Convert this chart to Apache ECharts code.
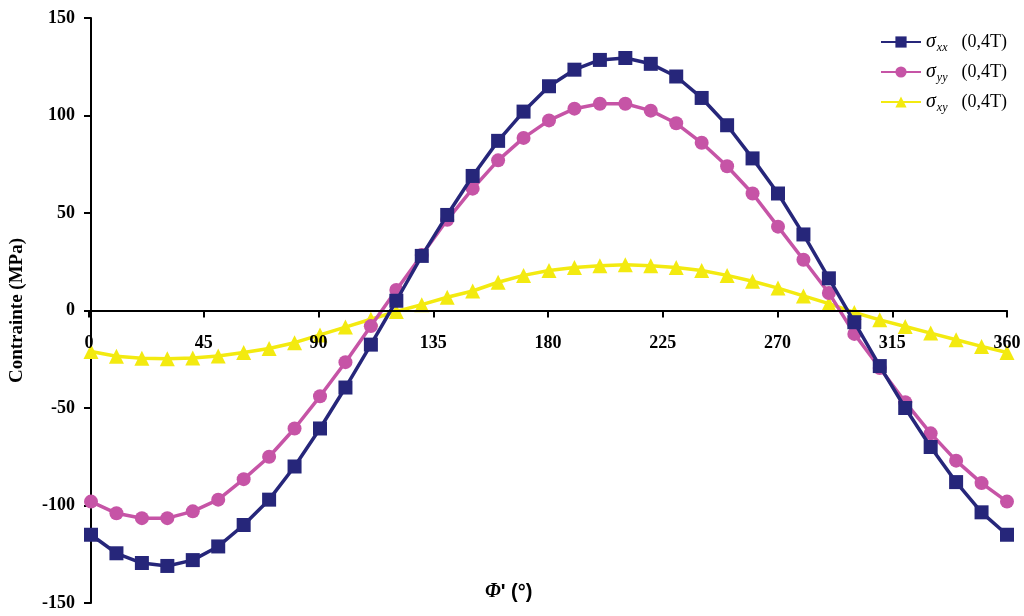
<!DOCTYPE html>
<html><head><meta charset="utf-8">
<script src="https://cdn.jsdelivr.net/npm/echarts@6/dist/echarts.min.js"></script>
<style>html,body{margin:0;padding:0;background:#fff}#c{width:1024px;height:616px}</style>
</head><body><div id="c"></div>
<script>
const phi = [0,10,20,30,40,50,60,70,80,90,100,110,120,130,140,150,160,170,180,190,200,210,220,230,240,250,260,270,280,290,300,310,320,330,340,350,360];
const sxx = [-115,-124.5,-129.5,-131,-128,-121,-110,-97,-80,-60.5,-39.5,-17.5,5,28,49,69,87,102,115,123.5,128.5,129.5,126.5,120,109,95,78,60,39,16.5,-6,-28.5,-50,-70,-88,-103.5,-115];
const syy = [-98,-104,-106.5,-106.5,-103,-97,-86.5,-75,-60.5,-44,-26.5,-8,10.5,28.5,46.5,62.5,77,88.5,97.5,103.5,106,106,102.5,96,86,74,60,43,26,9,-12,-29.5,-47,-63,-77,-88.5,-98];
const sxy = [-21,-23.5,-24.5,-24.7,-24.3,-23.3,-21.5,-19.5,-16.5,-12.5,-8.5,-4.5,-0.5,3,6.8,10,14.5,18,20.5,22,23,23.5,23,22,20.5,18,15,11.5,7.5,3.5,-1,-4.8,-8.2,-11.6,-15,-18.4,-21.5];
const yTicks = {min:-150, max:150, interval:50};
const xTicks = {min:0, max:360, interval:45};
const names = ['xx','yy','xy'];
const legendSuffix = '(0,4T)';

const serif = 'Liberation Serif';
const chart = echarts.init(document.getElementById('c'));
function mk(arr){ return phi.map((p,i)=>[p,arr[i]]); }
const colors = ['#26267a','#c654a6','#f3ea10'];
const symbols = ['rect','circle','triangle'];
const sizes = [14,14,15];
const vals = [sxx,syy,sxy];
const gTop = 18, gBottom = 13, plotH = 616 - gTop - gBottom;
const zeroOffset = plotH * (yTicks.max - 0) / (yTicks.max - yTicks.min);
chart.setOption({
  animation:false,
  backgroundColor:'#fff',
  grid:[{left:89,right:17,top:gTop,bottom:gBottom},{left:89,right:17,top:gTop,height:zeroOffset}],
  title:{text:'{p|Φ}{t|\' (°)}',left:480,top:577,textStyle:{rich:{
    p:{fontFamily:serif,fontStyle:'italic',fontWeight:'bold',fontSize:20,color:'#000'},
    t:{fontFamily:'Liberation Sans',fontSize:20,color:'#000'}}}},
  legend:{orient:'vertical',right:12,top:25,itemWidth:40,itemHeight:14,itemGap:6,
    data:names,
    formatter:function(n){return '{s|σ}{b|'+n+'}{t|'+legendSuffix+'}';},
    textStyle:{rich:{
      s:{fontFamily:serif,fontStyle:'italic',fontSize:20,color:'#000',lineHeight:24},
      b:{fontFamily:serif,fontStyle:'italic',fontSize:12,color:'#000',padding:[12,14,0,1],lineHeight:24},
      t:{fontFamily:serif,fontSize:18,color:'#000',lineHeight:24}}}},
  xAxis:[{type:'value',gridIndex:0,min:xTicks.min,max:xTicks.max,interval:xTicks.interval,show:false},
    {type:'value',gridIndex:1,min:xTicks.min,max:xTicks.max,interval:xTicks.interval,position:'bottom',z:10,
    axisLine:{onZero:false,lineStyle:{color:'#000',width:2}},
    axisTick:{show:true,inside:false,length:7,lineStyle:{color:'#000',width:2}},
    axisLabel:{margin:24,fontFamily:serif,fontWeight:'bold',fontSize:18,color:'#000',showMinLabel:true,showMaxLabel:true},
    splitLine:{show:false}}],
  yAxis:[{type:'value',gridIndex:0,min:yTicks.min,max:yTicks.max,interval:yTicks.interval,
    name:'Contrainte (MPa)',nameLocation:'middle',nameGap:64,nameRotate:90,
    nameTextStyle:{fontFamily:serif,fontWeight:'bold',fontSize:19,color:'#000'},
    axisLine:{show:true,onZero:false,lineStyle:{color:'#000',width:2}},
    axisTick:{show:true,inside:false,length:7,lineStyle:{color:'#000',width:2}},
    axisLabel:{margin:16,fontFamily:serif,fontWeight:'bold',fontSize:18,color:'#000'},
    splitLine:{show:false}},
    {type:'value',gridIndex:1,min:0,max:1,show:false}],
  series:names.map((n,i)=>({name:n,type:'line',xAxisIndex:0,yAxisIndex:0,data:mk(vals[i]),symbol:symbols[i],symbolSize:sizes[i],
    showAllSymbol:true,clip:false,
    lineStyle:{color:colors[i],width:3.5},itemStyle:{color:colors[i]},z:3-i}))
});
</script></body></html>
